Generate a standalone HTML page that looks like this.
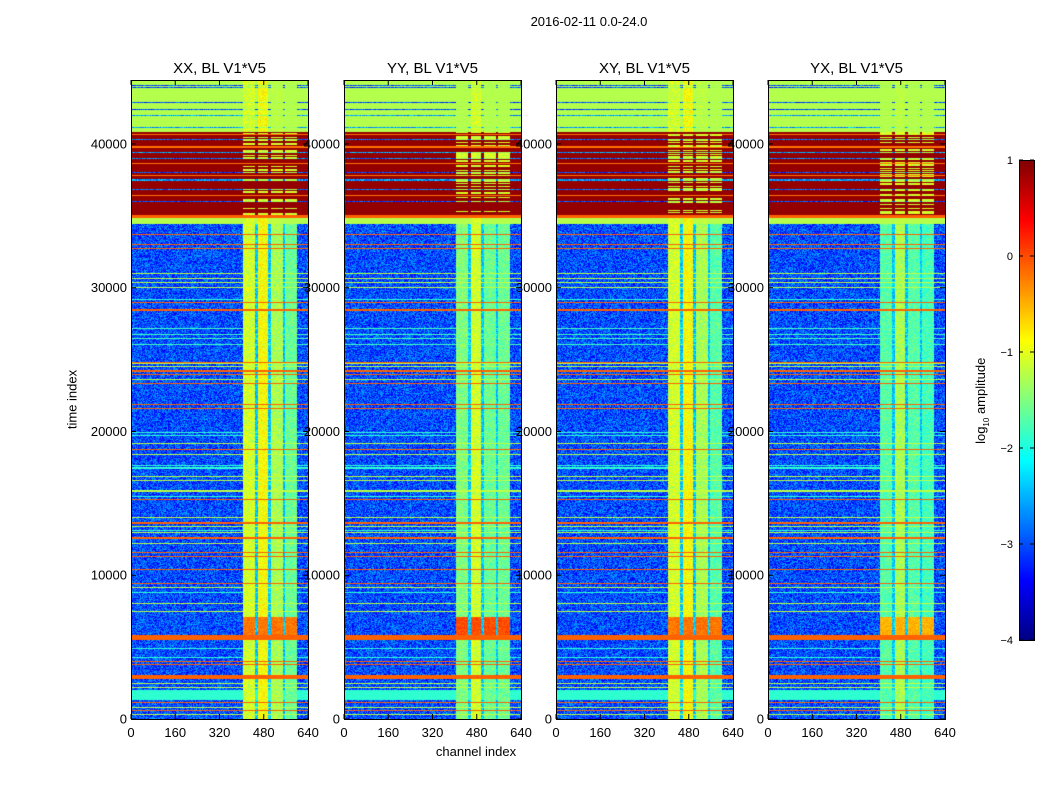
<!DOCTYPE html>
<html><head><meta charset="utf-8">
<style>
body{margin:0;background:#fff;width:1050px;height:800px;overflow:hidden;position:relative;font-family:"Liberation Sans","DejaVu Sans",sans-serif;color:#000}
.t{position:absolute;white-space:nowrap}
canvas{position:absolute}
svg{position:absolute;left:0;top:0}
</style></head>
<body>
<div class="t" style="left:489px;top:14px;width:200px;text-align:center;font-size:13px">2016-02-11 0.0-24.0</div>
<div class="t" style="left:22px;top:392px;transform:rotate(-90deg);font-size:13px;width:100px;text-align:center">time index</div>
<div class="t" style="left:426px;top:744px;width:100px;text-align:center;font-size:13px">channel index</div>
<div class="t" style="left:922px;top:392px;transform:rotate(-90deg);font-size:13px;width:120px;text-align:center">log<sub style="font-size:8px">10</sub> amplitude</div>
<canvas id="cb" width="15" height="480" style="left:1019px;top:160px"></canvas>
<svg id="ov" width="1050" height="800"></svg>
<script>
// ---- data ----
const panelTitles=["XX, BL V1*V5","YY, BL V1*V5","XY, BL V1*V5","YX, BL V1*V5"];
const xTicks=[0,160,320,480,640];
const yTicks=[0,10000,20000,30000,40000];
const cbTicks=[-4,-3,-2,-1,0,1];
const baseLevel=-3.0;
// row bands: [tStart, tEnd, log10 amplitude]
const rowBands=[
[40835,44450,-1.25],[34430,34850,-1.25],[34850,35050,-0.1],
[35050,40835,0.9],
[33635,33705,-0.1],[33005,33075,-0.1],[32665,32735,-0.1],
[30925,30995,-1.2],[30575,30645,-1.2],[30295,30365,-1.2],[30015,30085,-1.2],
[29115,29185,-1.9],[28905,28975,-0.1],[28350,28550,-0.1],
[27095,27165,-1.8],[26745,26815,-1.8],[26465,26535,-1.8],[25985,26055,-1.8],
[24795,24865,-0.1],[24665,24735,-1.2],[24455,24525,-1.2],[24110,24310,-0.1],
[23895,23965,-0.1],[23615,23685,-1.2],[23335,23405,-0.1],
[21875,21945,-0.1],[21535,21605,-0.1],[19865,19935,-1.9],[19655,19725,-1.9],
[19095,19165,-1.2],[18745,18815,-0.1],[18395,18465,-1.2],[17565,17635,-1.9],
[17425,17495,-1.9],[16865,16935,-1.2],[16525,16595,-1.2],[15825,15895,-1.2],
[15475,15545,-1.9],[15265,15335,-0.1],[14015,14085,-1.2],[13530,13730,-0.1],
[13325,13395,-1.2],[13045,13115,-1.9],[12905,12975,-1.2],[12490,12690,-0.1],
[12205,12275,-1.2],[11515,11585,-0.1],[11235,11305,-0.1],[10395,10465,-0.1],
[9425,9495,-0.1],[9145,9215,-1.2],[8735,8805,-1.9],[7965,8035,-1.2],
[7475,7545,-1.2],[5500,5840,-0.1],[4835,4905,-1.9],[4275,4345,-1.9],
[3935,4005,-0.1],[3725,3795,-0.1],[2800,3040,-0.1],[2465,2535,-1.2],
[2125,2195,-1.2],[1320,2020,-1.9],[1145,1215,-0.1],[795,865,-1.2],
[525,595,-0.1],[245,315,-1.2]];
// gaps inside bands: [tStart, tEnd, value]
const gapRows=[[44060,44130,-3],[43860,43930,-3],[42880,42950,-3],[42330,42400,-3],[41980,42050,-2.6],[41100,41170,-2.6],
[40600,40700,-0.2],[40300,40380,-2.8],[39750,39850,-0.2],[39400,39470,-2.6],[38950,39030,-2.8],[38600,38660,-0.2],[38000,38080,-3],[37800,37860,-0.2],
[37450,37530,-2.6],[36800,36860,-2.8],[36400,36450,-0.2],[35930,36010,-3]];
// column bands: [chStart, chEnd]
const colBands=[[405,448],[459,496],[506,550],[557,600]];
const colVals=[[-1.1,-0.9,-1.3,-1.6],[-1.5,-1.1,-1.6,-1.6],[-1.1,-0.9,-1.3,-1.7],[-1.7,-1.3,-1.7,-1.8]];
const blobT=[5850,7100];const blobVals=[-0.2,0.0,-0.2,-0.5];
// ---- layout ----
const lefts=[131,344,556,768],W=177,TOP=80,H=639,TMAX=44450;
function xs(c,i){return lefts[i]+c/640*W}
function ys(t){return TOP+H-t/TMAX*H}
function jet(v){let n=Math.max(0,Math.min(1,(v+4)/5));const c=x=>Math.round(255*Math.max(0,Math.min(1,1.5-Math.abs(x))));return [c(4*n-3),c(4*n-2),c(4*n-1)];}
function hash(a,b){let h=(a*374761393+b*668265263)|0;h=(h^(h>>>13))*1274126177|0;return ((h^(h>>>16))>>>0)/4294967295;}
const ov=document.getElementById('ov');const NS='http://www.w3.org/2000/svg';
function el(tag,at,txt){const e=document.createElementNS(NS,tag);for(const k in at)e.setAttribute(k,at[k]);if(txt!==undefined)e.textContent=txt;ov.appendChild(e);return e;}
for(let i=0;i<4;i++){
  const cv=document.createElement('canvas');cv.width=W;cv.height=H;
  cv.style.left=lefts[i]+'px';cv.style.top=TOP+'px';
  
  
  document.body.insertBefore(cv,ov);
  const ctx=cv.getContext('2d');const img=ctx.createImageData(W,H);
  for(let py=0;py<H;py++){
    const t=(H-py-0.5)/H*TMAX;
    let rv=null;for(const r of rowBands)if(t>=r[0]&&t<r[1])rv=r[2];
    for(const g of gapRows)if(t>=g[0]&&t<g[1])rv=g[2];
    const inRed=t>=35050&&t<40835;
    const rowH=hash(py,7+i);
    for(let px=0;px<W;px++){
      const ch=(px+0.5)/W*640;const h=hash(px+i*1000,py);
      let v=baseLevel+(h-0.5)*1.0;
      let ci=-1;colBands.forEach((c,k)=>{if(ch>=c[0]&&ch<c[1])ci=k;});
      if(ch>=448&&ch<600&&ci<0)v=-2.4+(h-0.5)*0.6;
      if(ci>=0){v=colVals[i][ci]+(h-0.5)*0.5;if(t>=blobT[0]&&t<blobT[1])v=blobVals[i]+(h-0.5)*0.3;}
      if(rv!==null){
        if(ci>=0&&rv<-1)v=Math.max(v,rv);
        else if(ci>=0&&inRed&&rowH<0.35)v=-1.1+(h-0.5)*0.4;
        else v=rv;
        if(rv<=-2.5)v=rv+(h-0.5)*0.8;
        if(ci>=0&&rv<=-2.5)v=-1.3;
      }
      const [r,g,b]=jet(v);const o=(py*W+px)*4;
      img.data[o]=r;img.data[o+1]=g;img.data[o+2]=b;img.data[o+3]=255;
    }
  }
  ctx.putImageData(img,0,0);
  el('rect',{x:lefts[i]+0.5,y:TOP+0.5,width:W,height:H,fill:'none',stroke:'#000','stroke-width':1,});
  el('text',{x:lefts[i]+W/2,y:73,'text-anchor':'middle','font-size':15,},panelTitles[i]);
  xTicks.forEach(c=>{const x=xs(c,i);
    el('line',{x1:x,x2:x,y1:TOP+H,y2:TOP+H-5,stroke:'#000'});
    el('line',{x1:x,x2:x,y1:TOP,y2:TOP+5,stroke:'#000'});
    el('text',{x:x,y:737,'text-anchor':'middle','font-size':13,},c);});
  yTicks.forEach(t=>{const y=ys(t);
    el('line',{x1:lefts[i],x2:lefts[i]+5,y1:y,y2:y,stroke:'#000'});
    el('line',{x1:lefts[i]+W,x2:lefts[i]+W-5,y1:y,y2:y,stroke:'#000'});
    el('text',{x:lefts[i]-4,y:y+4.5,'text-anchor':'end','font-size':13,},t);});
}
// colorbar
const cb=document.getElementById('cb').getContext('2d');
for(let y=0;y<480;y++){const [r,g,b]=jet(1-y/480*5);cb.fillStyle=`rgb(${r},${g},${b})`;cb.fillRect(0,y,15,1);}
el('rect',{x:1019.5,y:160.5,width:15,height:480,fill:'none',stroke:'#000'});
cbTicks.forEach(v=>{const y=640-(v+4)/5*480;
  el('line',{x1:1019,x2:1023,y1:y,y2:y,stroke:'#000'});el('line',{x1:1034,x2:1030,y1:y,y2:y,stroke:'#000'});
  el('text',{x:1013,y:y+4,'text-anchor':'end','font-size':11,},v<0?'\u2212'+(-v):v);});
</script>
</body></html>
